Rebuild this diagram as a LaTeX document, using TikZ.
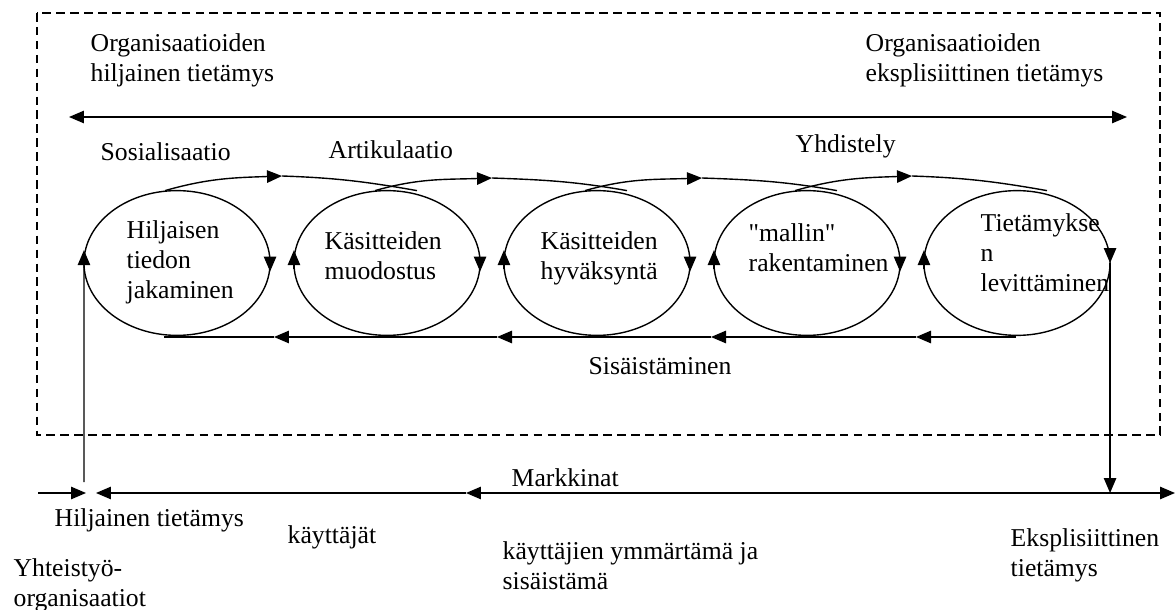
\documentclass[tikz,border=0pt]{standalone}
\usepackage{fontspec}
\setmainfont{Liberation Serif}[Ligatures=TeXOff]
\usepackage{tikz}
\usetikzlibrary{calc}
\usetikzlibrary{arrows.meta}
\usetikzlibrary{shapes.geometric}
\tikzset{%
  myedge/.style={->, >={Triangle[length=7pt,width=5.8pt]}},
  myloop/.style={ellipse, draw=black, minimum width=86.9pt, minimum height=67.6pt, inner sep=0pt, outer sep=0pt},
  mytext/.style={inner sep=0pt, align=left, font=\fontsize{12pt}{14pt}\selectfont}
}

\begin{document}
\begin{tikzpicture}[x=0.467pt, y=-0.467pt, line width=0.65pt]
  \useasboundingbox (0,0) rectangle (1176,610);
  \draw [dash pattern=on 4pt off 2.5pt] (37,13) rectangle (1160,435);
  % upper labels and arrow
  \node [mytext, anchor=north west] (tacitorg) at (90,33) {Organisaatioiden\\hiljainen tietämys};
  \node [mytext, anchor=north west] (explorg) at (865,33) {Organisaatioiden\\eksplisiittinen tietämys};
  \coordinate (tl) at (69,117);
  \coordinate (tr) at (1127,117);
  \draw [myedge, <->] (tl) -- (tr);
  \node [mytext, anchor=base west] (sos) at (100,161) {Sosialisaatio};
  \node [mytext, anchor=base west] (art) at (328,159) {Artikulaatio};
  \node [mytext, anchor=base west] (yhd) at (795,153) {Yhdistely};
  % the five phases
  \node [myloop] (e1) at (177,263) {};
  \node [myloop] (e2) at (387,263) {};
  \node [myloop] (e3) at (597,263) {};
  \node [myloop] (e4) at (807,263) {};
  \node [myloop] (e5) at (1017,263) {};
  \node [mytext, anchor=north west] (t1) at (126,220) {Hiljaisen\\tiedon\\jakaminen};
  \node [mytext, anchor=north west] (t2) at (324,231) {Käsitteiden\\muodostus};
  \node [mytext, anchor=north west] (t3) at (540,231) {Käsitteiden\\hyväksyntä};
  \node [mytext, anchor=north west] (t4) at (748,223) {"mallin"\\rakentaminen};
  \node [mytext, anchor=north west] (t5) at (980,213) {Tietämykse\\n\\levittäminen};
  % arcs over the top
  \coordinate (p1) at (282,176);
  \coordinate (p2) at (492,178);
  \coordinate (p3) at (702,178);
  \coordinate (p4) at (912,176);
  \draw [myedge] ($(e1.north)+(-12,0)$) to[out=16,in=182] (p1);
  \draw (p1) to[out=-2,in=170] ($(e2.north)+(30,0)$);
  \draw [myedge] ($(e2.north)+(-12,0)$) to[out=16,in=182] (p2);
  \draw (p2) to[out=-2,in=170] ($(e3.north)+(30,0)$);
  \draw [myedge] ($(e3.north)+(-12,0)$) to[out=16,in=182] (p3);
  \draw (p3) to[out=-2,in=170] ($(e4.north)+(30,0)$);
  \draw [myedge] ($(e4.north)+(-12,0)$) to[out=16,in=182] (p4);
  \draw (p4) to[out=-2,in=170] ($(e5.north)+(30,0)$);
  % turning arrows on the loops
  \draw [myedge] ([yshift=3pt]e1.east) -- ([yshift=-4pt]e1.east);
  \draw [myedge] ([yshift=3pt]e2.east) -- ([yshift=-4pt]e2.east);
  \draw [myedge] ([yshift=3pt]e3.east) -- ([yshift=-4pt]e3.east);
  \draw [myedge] ([yshift=3pt]e4.east) -- ([yshift=-4pt]e4.east);
  \draw [myedge] ([yshift=6pt]e5.east) -- (e5.east);
  \draw [myedge] ([yshift=-3pt]e2.west) -- ([yshift=6pt]e2.west);
  \draw [myedge] ([yshift=-3pt]e3.west) -- ([yshift=6pt]e3.west);
  \draw [myedge] ([yshift=-3pt]e4.west) -- ([yshift=6pt]e4.west);
  \draw [myedge] ([yshift=-3pt]e5.west) -- ([yshift=6pt]e5.west);
  % back along the bottom
  \coordinate (sr) at (1016,337);
  \coordinate (s4) at (916,337);
  \coordinate (s3) at (711,337);
  \coordinate (s2) at (497,337);
  \coordinate (s1) at (274,337);
  \coordinate (sl) at (164,337);
  \draw [myedge] (sr) -- (s4);
  \draw [myedge] (s4) -- (s3);
  \draw [myedge] (s3) -- (s2);
  \draw [myedge] (s2) -- (s1);
  \draw (s1) -- (sl);
  \node [mytext, anchor=base] (sis) at (660,374) {Sisäistäminen};
  % market line
  \coordinate (m0) at (38,493);
  \coordinate (m0tip) at (86,493);
  \coordinate (m1) at (96,493);
  \coordinate (m2) at (466,493);
  \coordinate (m3) at (1175,493);
  \coordinate (up) at (84,482);
  \coordinate (down) at ($(e5.east)+(0,230)$);
  \draw [myedge] (m0) -- (m0tip);
  \draw [myedge] (m2) -- (m1);
  \draw [myedge, <->] (m2) -- (m3);
  \draw [myedge] (up) -- ([yshift=6pt]e1.west);
  \draw [myedge] (e5.east) -- (down);
  \node [mytext, anchor=base west] (mark) at (511,486) {Markkinat};
  \node [mytext, anchor=base west] (hilj) at (54,526) {Hiljainen tietämys};
  \node [mytext, anchor=base west] (kayt) at (287,543) {käyttäjät};
  \node [mytext, anchor=north west] (yht) at (13,558) {Yhteistyö-\\organisaatiot};
  \node [mytext, anchor=north west] (ymm) at (502,541) {käyttäjien ymmärtämä ja\\sisäistämä};
  \node [mytext, anchor=north west] (ekspl) at (1010,528) {Eksplisiittinen\\tietämys};
\end{tikzpicture}
\end{document}
